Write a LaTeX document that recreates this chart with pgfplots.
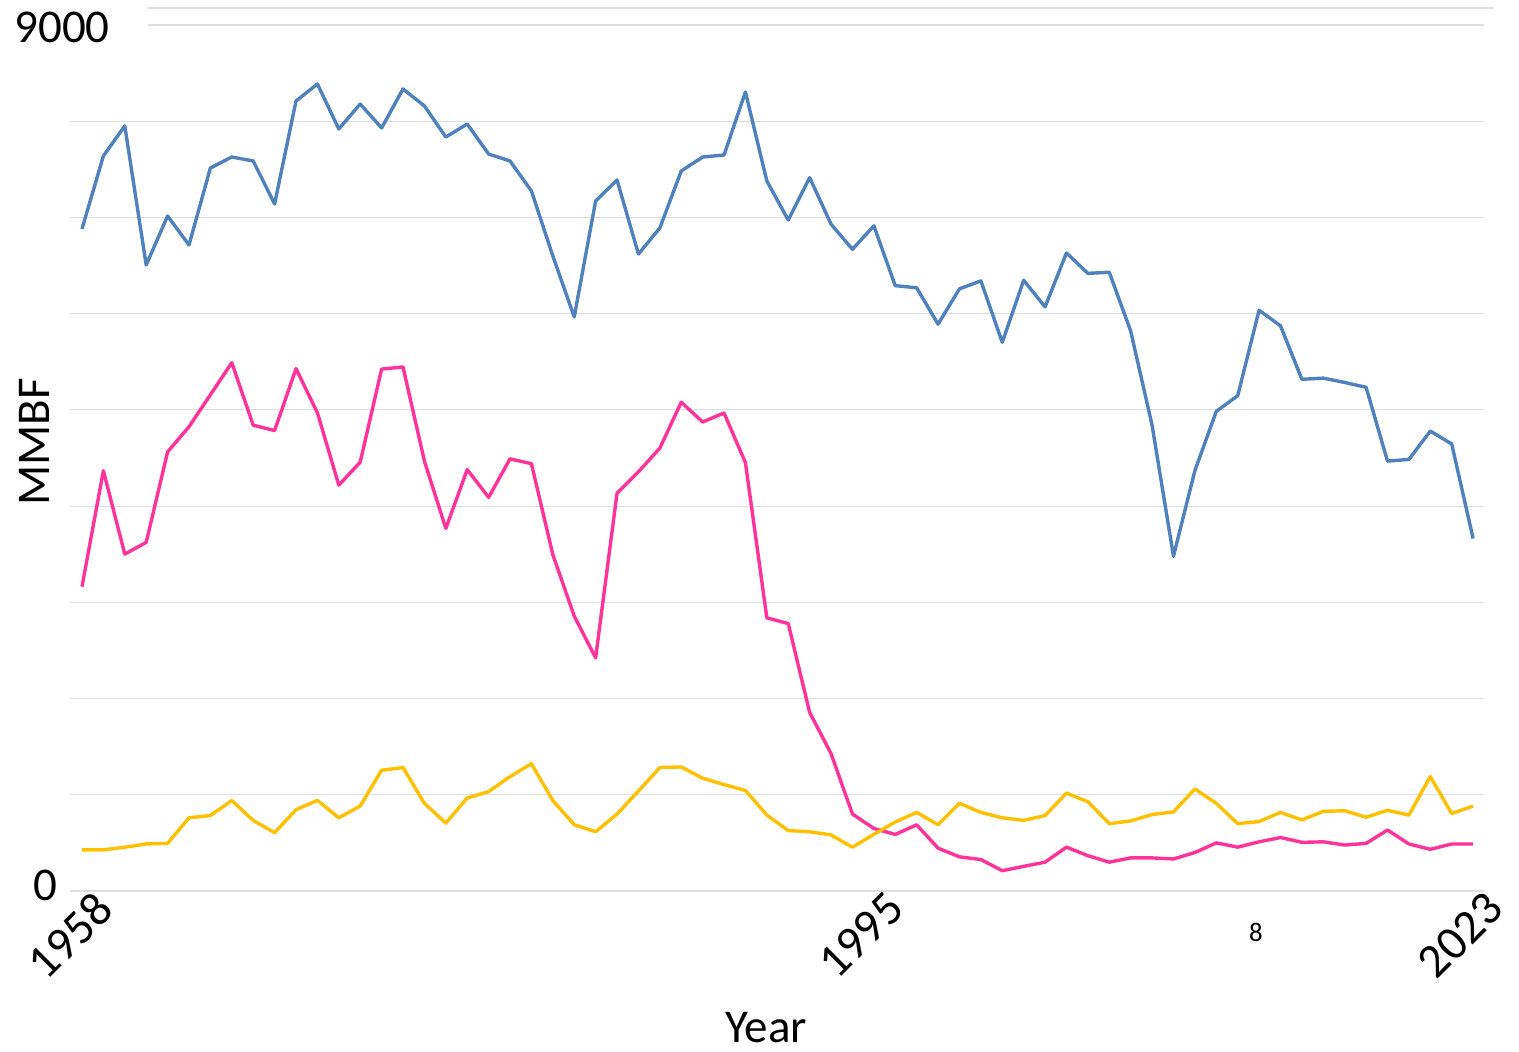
\documentclass[border=0pt]{standalone}
\usepackage{pgfplots}
\usepackage{pgfplotstable}
\pgfplotsset{compat=1.18}
\usepackage{fontspec}
\setmainfont{Carlito}
\definecolor{cblue}{RGB}{79,129,189}
\definecolor{cpink}{RGB}{255,51,153}
\definecolor{cyellow}{RGB}{255,192,0}
\definecolor{cgrid}{RGB}{222,222,222}

\pgfplotstableread{
year val
1958 6880
1959 7639
1960 7951
1961 6506
1962 7015
1963 6714
1964 7514
1965 7628
1966 7587
1967 7140
1968 8210
1969 8387
1970 7919
1971 8179
1972 7930
1973 8335
1974 8159
1975 7836
1976 7971
1977 7659
1978 7587
1979 7275
1980 6600
1981 5966
1982 7171
1983 7389
1984 6620
1985 6890
1986 7483
1987 7628
1988 7649
1989 8304
1990 7379
1991 6973
1992 7414
1993 6930
1994 6669
1995 6913
1996 6291
1997 6269
1998 5891
1999 6258
2000 6341
2001 5702
2002 6347
2003 6070
2004 6631
2005 6419
2006 6430
2007 5819
2008 4841
2009 3479
2010 4368
2011 4985
2012 5147
2013 6035
2014 5874
2015 5318
2016 5330
2017 5285
2018 5235
2019 4468
2020 4485
2021 4780
2022 4646
2023 3663
}\blueseries

\pgfplotstableread{
year val
1958 3163
1959 4368
1960 3501
1961 3623
1962 4563
1963 4825
1964 5157
1965 5491
1966 4841
1967 4785
1968 5429
1969 4970
1970 4218
1971 4457
1972 5424
1973 5446
1974 4468
1975 3768
1976 4380
1977 4091
1978 4491
1979 4441
1980 3496
1981 2857
1982 2423
1983 4134
1984 4357
1985 4602
1986 5080
1987 4874
1988 4968
1989 4451
1990 2839
1991 2779
1992 1856
1993 1428
1994 800
1995 650
1996 588
1997 688
1998 445
1999 355
2000 327
2001 211
2002 256
2003 300
2004 456
2005 367
2006 300
2007 344
2008 344
2009 333
2010 400
2011 500
2012 456
2013 511
2014 556
2015 506
2016 511
2017 478
2018 495
2019 634
2020 489
2021 433
2022 489
2023 489
}\pinkseries

\pgfplotstableread{
year val
1958 428
1959 428
1960 455
1961 489
1962 495
1963 761
1964 784
1965 940
1966 734
1967 606
1968 845
1969 942
1970 761
1971 883
1972 1255
1973 1283
1974 911
1975 706
1976 967
1977 1033
1978 1189
1979 1323
1980 940
1981 689
1982 616
1983 800
1984 1039
1985 1283
1986 1289
1987 1172
1988 1106
1989 1045
1990 789
1991 628
1992 616
1993 583
1994 455
1995 589
1996 717
1997 817
1998 689
1999 911
2000 817
2001 761
2002 734
2003 784
2004 1017
2005 928
2006 700
2007 728
2008 795
2009 822
2010 1061
2011 911
2012 700
2013 722
2014 817
2015 739
2016 828
2017 834
2018 767
2019 839
2020 789
2021 1189
2022 805
2023 883
}\yellowseries

\begin{document}
\begin{tikzpicture}
\path[use as bounding box] (-35pt,-80pt) rectangle (724.5pt,445.5pt);
\begin{axis}[
  at={(0pt,0pt)}, anchor=south west,
  scale only axis, width=707pt, height=433pt,
  xmin=1957.44, xmax=2023.51, ymin=0, ymax=9000,
  clip=false,
  axis line style={draw=none},
  major tick length=0pt,
  xtick={1958,1995,2023}, xticklabels={1958,1995,2023},
  xticklabel style={rotate=45, anchor=north east, inner sep=0pt,
    font=\fontsize{24}{28}\selectfont, xshift=4.4pt, yshift=-3pt},
  ytick={0,1000,...,8000}, yticklabels={},
  ymajorgrids, grid style={cgrid, line width=0.6pt},
  xlabel={Year}, ylabel={MMBF},
  xlabel style={at={(axis description cs:0.4922,0)}, anchor=center, yshift=-68.5pt,
    font=\fontsize{23.5}{28}\selectfont},
  ylabel style={at={(axis description cs:0,0.5185)}, anchor=center, yshift=18pt,
    font=\fontsize{23.5}{28}\selectfont},
  every axis plot/.append style={line width=1.7pt, line join=round, mark=none},
]
\draw[cgrid, line width=0.6pt] (axis cs:1961.08,9000) -- (axis cs:2023.51,9000);
\draw[cgrid, line width=0.6pt] (axis cs:1961.08,9177) -- (axis cs:2023.93,9177);
\addplot[cblue] table[x=year, y=val] {\blueseries};
\addplot[cpink] table[x=year, y=val] {\pinkseries};
\addplot[cyellow] table[x=year, y=val] {\yellowseries};
\node[font=\fontsize{23.5}{28}\selectfont, inner sep=0pt] at ([xshift=-12.5pt, yshift=3pt]rel axis cs:0,0) {0};
\node[font=\fontsize{23.5}{28}\selectfont, inner sep=0pt] at ([xshift=-4pt, yshift=-1pt]rel axis cs:0,1) {9000};
\node[font=\fontsize{13.4}{16}\selectfont, inner sep=0pt] at ([xshift=593pt, yshift=-20.5pt]rel axis cs:0,0) {8};
\end{axis}
\end{tikzpicture}
\end{document}
